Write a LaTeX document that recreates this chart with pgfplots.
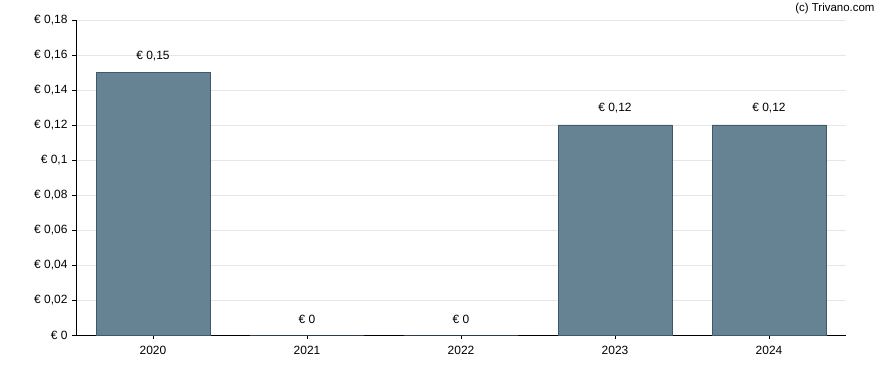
\documentclass[border=0pt]{standalone}
\usepackage{pgfplots}
\pgfplotsset{compat=1.18}
\usepackage{fontspec}
\setmainfont{Liberation Sans}
\definecolor{barfill}{RGB}{102,131,148}
\definecolor{baredge}{RGB}{62,88,108}
\definecolor{gridc}{RGB}{230,230,230}
\begin{document}
\begin{tikzpicture}[x=1bp,y=1bp]
\path[use as bounding box] (0,0) rectangle (888,370);
\begin{axis}[
  at={(76bp,35bp)}, anchor=south west,
  scale only axis,
  width=770bp, height=315bp,
  xmin=-0.5, xmax=4.5,
  ymin=0, ymax=0.18,
  ytick={0,0.02,0.04,0.06,0.08,0.1,0.12,0.14,0.16,0.18},
  xtick=data,
  xticklabels={2020,2021,2022,2023,2024},
  axis x line*=bottom,
  axis y line*=left,
  axis line style={black, line width=0.8pt, -},
  ymajorgrids,
  grid style={gridc, line width=0.6pt},
  tick align=outside,
  major tick length=4bp,
  tick style={black, line width=0.7pt},
  /pgf/number format/assume math mode=true,
  yticklabel={€ \pgfmathprintnumber[use comma,fixed]{\tick}},
  tick label style={font=\fontsize{12}{14}\selectfont},
  yticklabel style={xshift=-1bp},
  xticklabel style={yshift=-4bp},
  clip=false,
  ybar,
  bar width=114bp,
  nodes near coords={€ \pgfmathprintnumber[use comma,fixed]{\pgfplotspointmeta}},
  nodes near coords style={font=\fontsize{12}{14}\selectfont, black, yshift=8bp},
  point meta=y,
]
\addplot[fill=barfill, draw=baredge, line width=0.6pt] coordinates {
  (0,0.15) (1,0) (2,0) (3,0.12) (4,0.12)
};
\end{axis}
\node[anchor=east, font=\fontsize{11.5}{13}\selectfont] at (878,361) {(c) Trivano.com};
\end{tikzpicture}
\end{document}
